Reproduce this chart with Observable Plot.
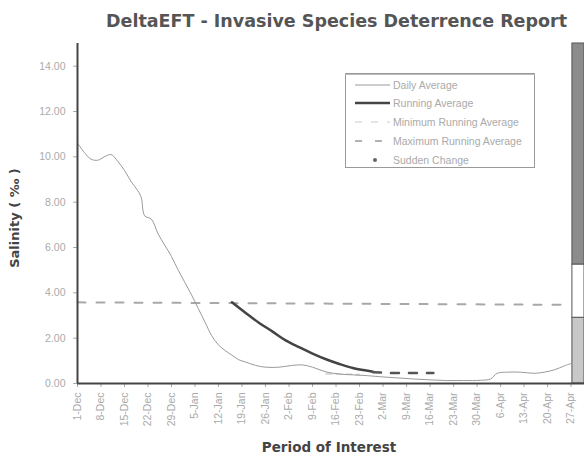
<!DOCTYPE html>
<html>
<head>
<meta charset="utf-8">
<script src="https://cdn.jsdelivr.net/npm/d3@7"></script>
<script src="https://cdn.jsdelivr.net/npm/@observablehq/plot@0.6"></script>
<style>
  body { margin: 0; background: #fff; }
  #wrap { position: relative; width: 584px; height: 455px; overflow: hidden; }
  #title { height: 37px; line-height: 42px; padding-left: 106px; font-family: "DejaVu Sans", sans-serif; font-weight: bold; font-size: 17.5px; color: #555; white-space: nowrap; }
  #legend { position: absolute; left: 345px; top: 73px; }
</style>
</head>
<body>
<div id="wrap">
  <div id="title">DeltaEFT - Invasive Species Deterrence Report</div>
  <div id="chart"></div>
  <div id="legend"></div>
</div>
<script>
// Days since 1-Dec and salinity values (‰)
const dailyDays = [0,2,4,6,8,10,12,14,16,18,19,20,22,24,26,28,30,32,34,36,38,40,42,44,46,48,50,53,56,60,64,67,70,74,78,82,86,90,95,100,105,110,115,120,123,125,128,132,136,139,142,145,147];
const dailyVals = [10.6,10.2,9.9,9.85,10.0,10.1,9.8,9.4,8.9,8.5,8.2,7.4,7.25,6.6,6.1,5.6,5.0,4.45,3.9,3.3,2.7,2.1,1.7,1.45,1.25,1.05,0.95,0.8,0.72,0.72,0.8,0.82,0.72,0.51,0.42,0.38,0.35,0.3,0.25,0.2,0.16,0.13,0.13,0.14,0.2,0.45,0.5,0.5,0.45,0.5,0.6,0.78,0.88];

const runDays = [46,50,54,58,62,66,70,74,78,82,86,88];
const runVals = [3.58,3.12,2.68,2.3,1.9,1.6,1.32,1.07,0.86,0.68,0.57,0.52];
const runTailDays = [88,92,96,100,106];
const runTailVals = [0.5,0.47,0.46,0.46,0.46];

const maxDays = [0,147];
const maxVals = [3.58,3.47];
const minDays = [74,84];
const minVals = [0.42,0.4];

// salinity bands shown in the bar at the right
const bandLow = [0, 2.9, 5.25];
const bandHigh = [2.9, 5.25, 15];
const bandFill = ["#c8c8c8", "#ffffff", "#8c8c8c"];

const yTicks = [0,2,4,6,8,10,12,14];
const legendLabels = ["Daily Average","Running Average","Minimum Running Average","Maximum Running Average","Sudden Change"];

const start = Date.UTC(2008, 11, 1);
const day = d => new Date(start + d * 864e5);
const xTicks = d3.range(0, 148, 7).map(day);
const mk = (ds, vs) => ds.map((d, i) => ({date: day(d), v: vs[i]}));

const daily = mk(dailyDays, dailyVals);
const run = mk(runDays, runVals);
const runTail = mk(runTailDays, runTailVals);
const maxRun = mk(maxDays, maxVals);
const minRun = mk(minDays, minVals);
const bands = bandLow.map((lo, i) => ({y1: lo, y2: bandHigh[i], fill: bandFill[i], x1: new Date(start + 147.4 * 864e5), x2: day(151)}));

const fmt = d3.utcFormat("%-d-%b");

const plot = Plot.plot({
  width: 584,
  height: 418,
  marginLeft: 77,
  marginRight: 0,
  marginTop: 6,
  marginBottom: 72,
  style: {fontFamily: "Liberation Sans, Arial, sans-serif", fontSize: "10.5px", color: "#aaa", background: "#fff"},
  x: {type: "utc", domain: [day(0), day(151)], ticks: xTicks, tickFormat: fmt, tickRotate: -90, tickSize: 4, tickPadding: 5, label: null},
  y: {domain: [0, 15], ticks: yTicks, tickFormat: d3.format(".2f"), tickSize: 4, tickPadding: 8, label: null},
  marks: [
    Plot.rect(bands, {x1: "x1", x2: "x2", y1: "y1", y2: "y2", fill: "fill", stroke: "#555", strokeWidth: 1}),
    Plot.line(maxRun, {x: "date", y: "v", stroke: "#a8a8a8", strokeWidth: 2, strokeDasharray: "8,11"}),
    Plot.line(minRun, {x: "date", y: "v", stroke: "#d0d0d0", strokeWidth: 1.5, strokeDasharray: "6,4"}),
    Plot.line(daily, {x: "date", y: "v", stroke: "#9a9a9a", strokeWidth: 1, curve: "catmull-rom"}),
    Plot.line(run, {x: "date", y: "v", stroke: "#444", strokeWidth: 2.5, curve: "catmull-rom"}),
    Plot.line(runTail, {x: "date", y: "v", stroke: "#555", strokeWidth: 2.5, strokeDasharray: "8,10"}),
    Plot.ruleX([day(0)], {stroke: "#444", strokeWidth: 2}),
    Plot.ruleY([0], {stroke: "#444", strokeWidth: 2})
  ]
});
document.getElementById("chart").appendChild(plot);

// axis titles
const svg = d3.select(plot);
svg.append("text")
  .attr("transform", "translate(19,181) rotate(-90)")
  .attr("text-anchor", "middle")
  .style("font-family", "DejaVu Sans, sans-serif").style("font-weight", "bold").style("font-size", "13px").style("fill", "#444")
  .text("Salinity ( ‰ )");
svg.append("text")
  .attr("x", 329).attr("y", 415)
  .attr("text-anchor", "middle")
  .style("font-family", "DejaVu Sans, sans-serif").style("font-weight", "bold").style("font-size", "13.5px").style("fill", "#444")
  .text("Period of Interest");

// legend
const lg = d3.select("#legend").append("svg").attr("width", 191).attr("height", 96);
lg.append("rect").attr("x", 0.5).attr("y", 0.5).attr("width", 189).attr("height", 94).attr("fill", "#fff").attr("stroke", "#999");
lg.append("line").attr("x1", 0).attr("x2", 190).attr("y1", 1.5).attr("y2", 1.5).attr("stroke", "#bbb");
const rowY = [12, 30, 49, 68, 87];
const sx1 = 10, sx2 = 45;
lg.append("line").attr("x1", sx1).attr("x2", sx2).attr("y1", rowY[0]).attr("y2", rowY[0]).attr("stroke", "#9a9a9a").attr("stroke-width", 1);
lg.append("line").attr("x1", sx1).attr("x2", sx2).attr("y1", rowY[1]).attr("y2", rowY[1]).attr("stroke", "#444").attr("stroke-width", 2.5);
lg.append("line").attr("x1", sx1).attr("x2", sx2).attr("y1", rowY[2]).attr("y2", rowY[2]).attr("stroke", "#ddd").attr("stroke-width", 1.5).attr("stroke-dasharray", "7,9");
lg.append("line").attr("x1", sx1).attr("x2", sx2).attr("y1", rowY[3]).attr("y2", rowY[3]).attr("stroke", "#999").attr("stroke-width", 1.5).attr("stroke-dasharray", "7,13");
lg.append("circle").attr("cx", 30).attr("cy", rowY[4]).attr("r", 2).attr("fill", "#666");
legendLabels.forEach((t, i) => {
  lg.append("text").attr("x", 48).attr("y", rowY[i]).attr("dy", "0.35em")
    .style("font-family", "Liberation Sans, Arial, sans-serif").style("font-size", "10.5px").style("fill", "#aaa").text(t);
});
</script>
</body>
</html>
